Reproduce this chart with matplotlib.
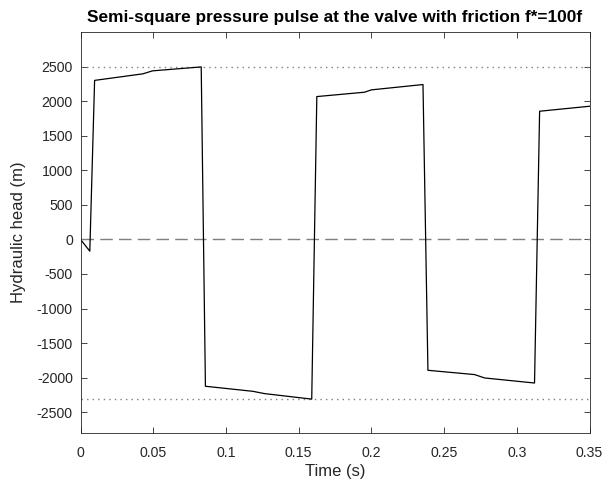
import matplotlib
matplotlib.use("Agg")
import matplotlib.pyplot as plt
import numpy as np

plt.rcParams['font.family'] = ['Liberation Sans', 'DejaVu Sans']
plt.rcParams['axes.unicode_minus'] = False

# Trace of hydraulic head vs time
time_s = [0.0, 0.0064, 0.0097, 0.0429, 0.0495, 0.0830,
          0.0859, 0.1185, 0.1265, 0.1590,
          0.1625, 0.1953, 0.2000, 0.2355,
          0.2389, 0.2710, 0.2779, 0.3122,
          0.3157, 0.3500]
head_m = [0, -170, 2300, 2395, 2438, 2495,
          -2124, -2197, -2230, -2310,
          2066, 2129, 2163, 2240,
          -1893, -1955, -2004, -2077,
          1854, 1926]

max_head = 2495
min_head = -2310
xlim = (0, 0.35)
ylim = (-2800, 3000)
xticks = [0, 0.05, 0.1, 0.15, 0.2, 0.25, 0.3, 0.35]
xticklabels = ['0', '0.05', '0.1', '0.15', '0.2', '0.25', '0.3', '0.35']
yticks = list(range(-2500, 2501, 500))

fig = plt.figure(figsize=(6.05, 4.86), dpi=100)
ax = fig.add_axes([80.5/605, 1 - 433/486, (589.5-80.5)/605, (433-32)/486])

ax.plot(xlim, [0, 0], color='#7f7f7f', lw=1.0, dashes=(9, 4.5))
ax.plot(xlim, [max_head, max_head], color='#7f7f7f', lw=1.0, linestyle=(0, (1, 3)))
ax.plot(xlim, [min_head, min_head], color='#7f7f7f', lw=1.0, linestyle=(0, (1, 3)))
ax.plot(time_s, head_m, color='black', lw=0.9)

ax.set_xlim(*xlim)
ax.set_ylim(*ylim)
ax.set_xticks(xticks)
ax.set_xticklabels(xticklabels)
ax.set_yticks(yticks)
ax.tick_params(direction='in', top=True, right=True, length=4, width=0.6,
               colors='#262626', labelsize=10.2, labelcolor='#262626')
ax.tick_params(axis='x', pad=9.5)
ax.tick_params(axis='y', pad=5.5)
for s in ax.spines.values():
    s.set_color('#262626')
    s.set_linewidth(0.6)

ax.set_xlabel('Time (s)', fontsize=12, color='#262626', labelpad=3)
ax.set_ylabel('Hydraulic head (m)', fontsize=12, color='#262626', labelpad=7.5)
ax.set_title('Semi-square pressure pulse at the valve with friction f*=100f',
             fontsize=12.4, fontweight='bold', pad=7)

fig.savefig('out.png', dpi=100)
